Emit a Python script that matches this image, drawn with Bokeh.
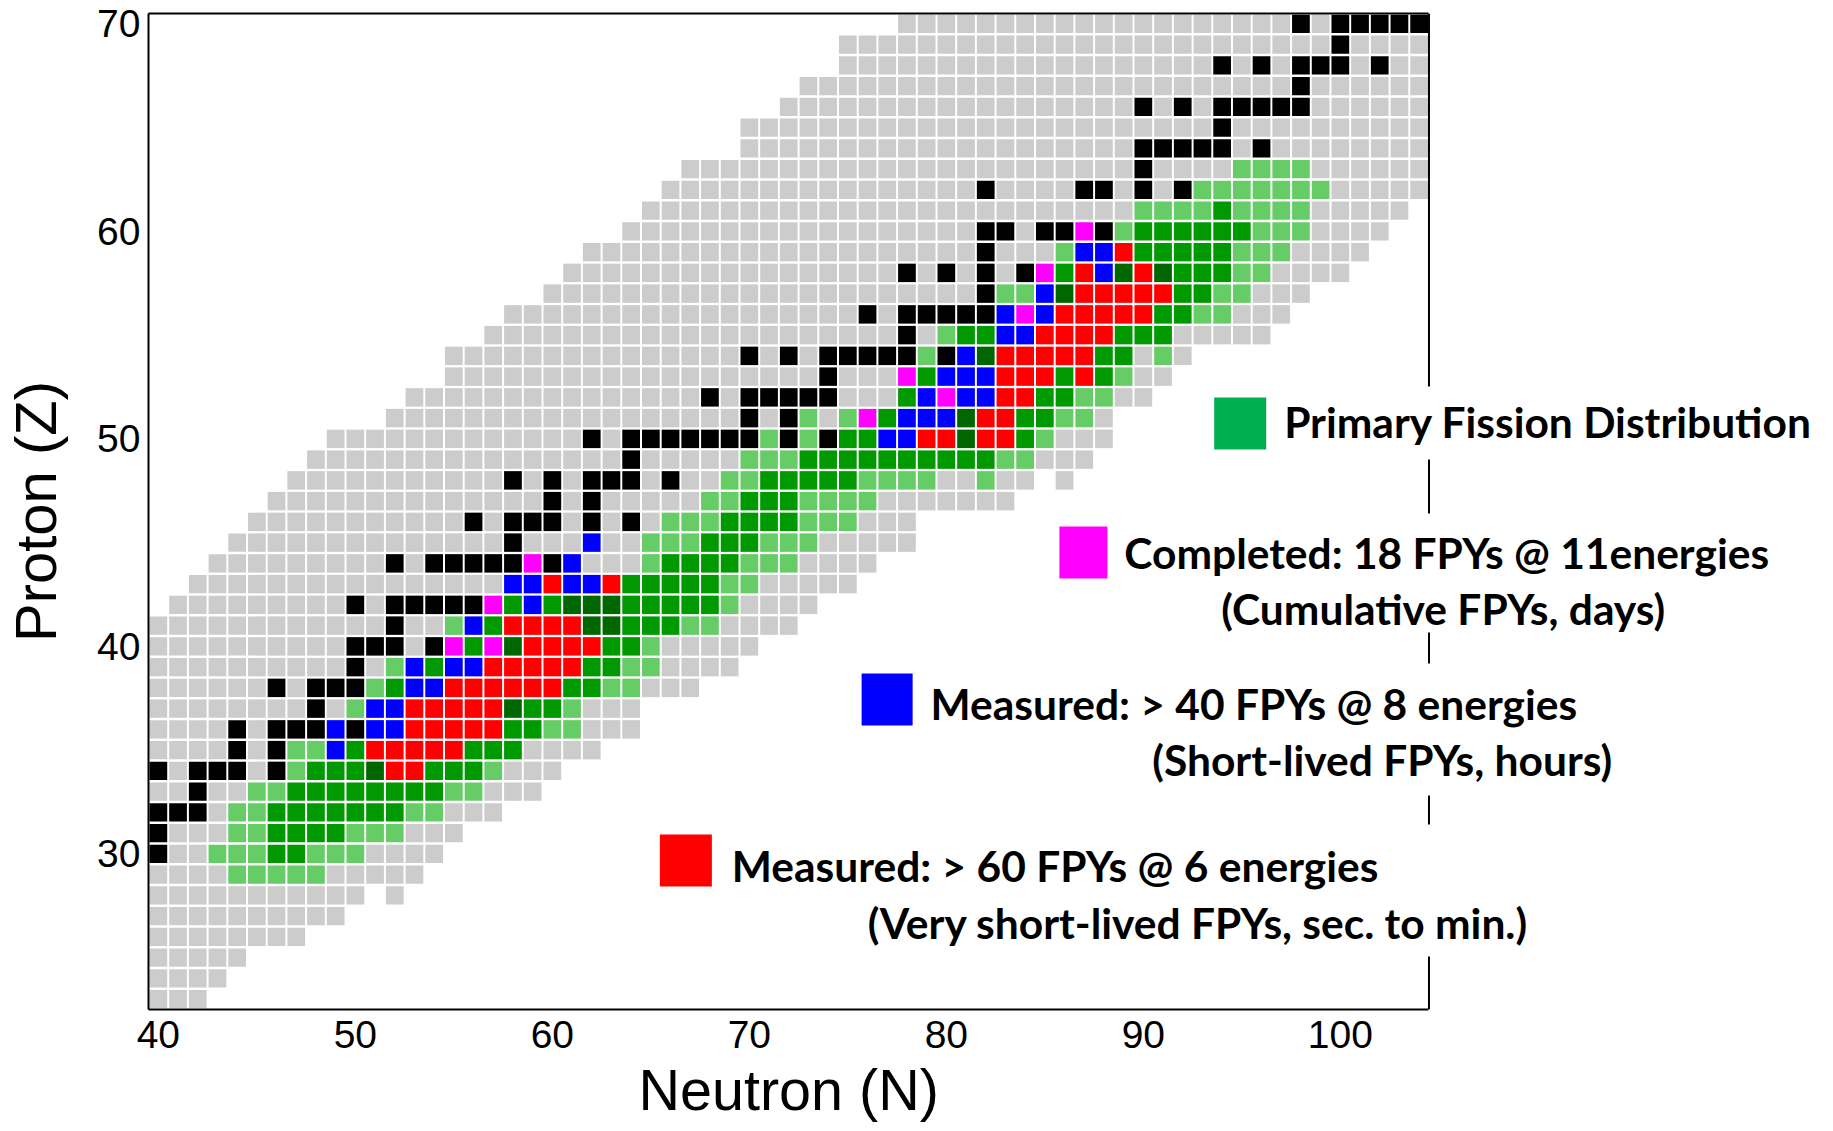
from bokeh.plotting import figure
from bokeh.models import Range1d, FixedTicker, LinearAxis, Label, ColumnDataSource, Title
from bokeh.embed import file_html
from bokeh.resources import INLINE

# ---------------- data ----------------
Z_ROWS = list(range(23, 71))
GRAY_FIRST_N = [40] * 19 + [41, 42, 43, 44, 45, 46, 47, 48, 49, 52, 53, 55, 55, 57,
                            58, 60, 61, 62, 64, 65, 66, 67, 70, 70, 72, 73, 75, 75, 78]
GRAY_LAST_N = [42, 43, 44, 47, 49, 52, 53, 54, 55, 57, 59, 60, 62, 64, 64, 67, 69, 70,
               72, 73, 75, 76, 78, 78, 83, 86, 87, 88, 88, 90, 91, 92, 96, 97, 98, 100,
               101, 102, 103, 104, 104, 104, 104, 104, 104, 104, 104, 104]
GRAY_HOLES = [(51, 28), (85, 48)]

STABLE = {70: [98, 100, 101, 102, 103, 104], 69: [100], 68: [94, 96, 98, 99, 100, 102],
          67: [98], 66: [90, 92, 94, 95, 96, 97, 98], 65: [94], 64: [90, 91, 92, 93, 94, 96],
          63: [90], 62: [82, 87, 88, 90, 92], 60: [82, 83, 85, 86, 88], 59: [82],
          58: [78, 80, 82, 84], 57: [82], 56: [76, 78, 79, 80, 81, 82], 55: [78],
          54: [70, 72, 74, 75, 76, 77, 78, 80], 53: [74], 52: [68, 70, 71, 72, 73, 74],
          51: [70, 72], 50: [62, 64, 65, 66, 67, 68, 69, 70, 72, 74], 49: [64],
          48: [58, 60, 62, 63, 64, 66], 47: [60, 62], 46: [56, 58, 59, 60, 62, 64], 45: [58],
          44: [52, 54, 55, 56, 57, 58, 60], 42: [50, 52, 53, 54, 55, 56], 41: [52],
          40: [50, 51, 52, 54], 39: [50], 38: [46, 48, 49, 50], 37: [48],
          36: [44, 46, 47, 48, 50], 35: [44, 46], 34: [40, 42, 43, 44, 46], 33: [42],
          32: [40, 41, 42], 31: [40], 30: [40]}

PRIMARY_LIGHT = {63: [95, 96, 97, 98], 62: [93, 94, 95, 96, 97, 98, 99],
                 61: [90, 91, 92, 93, 95, 96, 97, 98], 60: [89, 96, 97, 98], 59: [86, 95, 96, 97],
                 58: [95, 96], 57: [83, 84, 94, 95], 56: [93, 94], 55: [80], 54: [79, 91],
                 53: [89], 52: [87, 88], 51: [73, 75, 86, 87], 50: [71, 73, 85],
                 49: [70, 71, 72, 83, 84], 48: [69, 70, 76, 77, 78, 79, 82],
                 47: [68, 69, 73, 74, 75, 76], 46: [66, 67, 68, 73, 74, 75],
                 45: [65, 66, 67, 71, 72, 73], 44: [65, 70, 71, 72], 43: [69, 70], 42: [69],
                 41: [55, 67, 68], 40: [65], 39: [52, 64, 65], 38: [51, 63, 64], 37: [50, 61],
                 36: [60, 61], 35: [47, 48], 34: [47, 57], 33: [45, 46, 55, 56],
                 32: [44, 45, 53, 54], 31: [44, 45, 50, 51, 52], 30: [43, 44, 45, 48, 49, 50],
                 29: [44, 45, 46, 47, 48]}

PRIMARY = {61: [94], 60: [90, 91, 92, 93, 94, 95], 59: [90, 91, 92, 93, 94],
           58: [86, 92, 93, 94], 57: [92, 93], 56: [91, 92], 55: [81, 82, 89, 90, 91],
           54: [88, 89], 53: [79, 86, 88], 52: [78, 85, 86], 51: [77, 84, 85], 50: [75, 76, 84],
           49: [73, 74, 75, 76, 77, 78, 79, 80, 81, 82], 48: [71, 72, 73, 74, 75],
           47: [70, 71, 72], 46: [69, 70, 71, 72], 45: [68, 69, 70], 44: [66, 67, 68, 69],
           43: [64, 65, 66, 67, 68], 42: [58, 60, 64, 65, 66, 67, 68], 41: [57, 64, 65, 66],
           40: [56, 63, 64], 39: [54, 62, 63], 38: [52, 61, 62], 37: [59, 60], 36: [58, 59],
           35: [50, 56, 57, 58], 34: [48, 49, 50, 54, 55, 56],
           33: [47, 48, 49, 50, 51, 52, 53, 54], 32: [46, 47, 48, 49, 50, 51, 52],
           31: [46, 47, 48, 49], 30: [46, 47]}

PRIMARY_DARK = {58: [89, 91], 57: [86], 54: [82], 51: [81], 50: [81], 42: [61, 62, 63],
                41: [62, 63], 40: [58], 37: [58], 34: [51]}

MEASURED_60 = {59: [89], 58: [87, 90], 57: [87, 88, 89, 90, 91], 56: [86, 87, 88, 89, 90],
               55: [85, 86, 87, 88], 54: [83, 84, 85, 86, 87], 53: [83, 84, 85, 87],
               52: [83, 84], 51: [82, 83], 50: [79, 80, 82, 83], 43: [60, 63],
               41: [58, 59, 60, 61], 40: [59, 60, 61, 62], 39: [57, 58, 59, 60, 61],
               38: [55, 56, 57, 58, 59, 60], 37: [53, 54, 55, 56, 57],
               36: [53, 54, 55, 56, 57], 35: [51, 52, 53, 54, 55], 34: [52, 53]}

MEASURED_40 = {59: [87, 88], 58: [88], 57: [85], 56: [83, 85], 55: [83, 84], 54: [81],
               53: [80, 81, 82], 52: [79, 81, 82], 51: [78, 79, 80], 50: [77, 78], 45: [62],
               44: [61], 43: [58, 59, 61, 62], 42: [59], 41: [56], 39: [53, 55, 56],
               38: [53, 54], 37: [51, 52], 36: [49, 51, 52], 35: [49]}

COMPLETED_18 = {60: [87], 58: [85], 56: [84], 53: [78], 52: [80], 51: [76], 44: [59],
                42: [57], 40: [55, 57]}

X_TICKS = [40, 50, 60, 70, 80, 90, 100]
Y_TICKS = [30, 40, 50, 60, 70]

LEGEND_TEXTS = ["Primary Fission Distribution",
                "Completed: 18 FPYs @ 11energies", "(Cumulative FPYs, days)",
                "Measured: > 40 FPYs @ 8 energies", "(Short-lived FPYs, hours)",
                "Measured: > 60 FPYs @ 6 energies", "(Very short-lived FPYs, sec. to min.)"]

# ---------------- styles ----------------
GRAY = "#cccccc"
COLORS = [(STABLE, "#000000"), (PRIMARY_LIGHT, "#66cc66"), (PRIMARY, "#009900"),
          (PRIMARY_DARK, "#006600"), (MEASURED_60, "#ff0000"), (MEASURED_40, "#0000ff"),
          (COMPLETED_18, "#ff00ff")]

cells = {}
for z, n0, n1 in zip(Z_ROWS, GRAY_FIRST_N, GRAY_LAST_N):
    for n in range(n0, n1 + 1):
        if (n, z) not in GRAY_HOLES:
            cells[(n, z)] = GRAY
for table, col in COLORS:
    for z, ns in table.items():
        for n in ns:
            cells[(n, z)] = col

src = ColumnDataSource(dict(x=[k[0] for k in cells], y=[k[1] for k in cells],
                            c=list(cells.values())))

W, H = 1833, 1131
L, T, B = 146, 13, 122
X0, XB, Y0, Y1 = 39.5, 104.5, 22.5, 70.5
SX = 1282 / (XB - X0)          # px per neutron unit of the chart box
SY = (H - T - B) / (Y1 - Y0)    # px per proton unit
X1 = X0 + (W - L) / SX          # frame runs to the right edge so texts are not clipped


def dx(px):
    return X0 + (px - L) / SX


def dy(py):
    return Y1 - (py - T) / SY


p = figure(width=W, height=H, output_backend="svg", toolbar_location=None,
           x_range=Range1d(X0, X1), y_range=Range1d(Y0, Y1),
           min_border_left=L, min_border_right=0, min_border_top=T, min_border_bottom=B)
p.outline_line_color = None
p.grid.visible = False
p.background_fill_color = "white"
p.border_fill_color = "white"

p.rect(x="x", y="y", width=0.9, height=0.89, fill_color="c", line_color=None, source=src)

for ax, ticks in ((p.xaxis[0], X_TICKS), (p.yaxis[0], Y_TICKS)):
    ax.ticker = FixedTicker(ticks=ticks)
    ax.major_tick_line_color = None
    ax.minor_tick_line_color = None
    ax.axis_line_width = 2
    ax.axis_line_color = "black"
    ax.major_label_text_font = "Liberation Sans"
    ax.major_label_text_font_size = "39px"
    ax.major_label_text_color = "black"
    ax.axis_label_text_font = "Liberation Sans"
    ax.axis_label_text_font_size = "58px"
    ax.axis_label_text_font_style = "normal"
    ax.axis_label_text_color = "black"
p.xaxis.bounds = (X0, XB)
p.xaxis.major_label_standoff = 5
p.yaxis.axis_label = "Proton (Z)"
p.yaxis.major_label_standoff = 2
p.yaxis.axis_label_standoff = 26

# x axis title, centred under the chart box (not under the wider frame)
p.add_layout(Title(text="Neutron (N)", align="left", offset=490, vertical_align="top",
                   standoff=14, text_font="Liberation Sans", text_font_size="57.5px",
                   text_font_style="normal", text_color="black"), "below")

top = LinearAxis(ticker=FixedTicker(ticks=[]), axis_line_width=2, axis_line_color="black",
                 major_tick_line_color=None, minor_tick_line_color=None,
                 major_label_text_font_size="0px", bounds=(X0, XB))
p.add_layout(top, "above")

# right edge of the chart box, interrupted behind the legend text boxes
EDGE_PIECES = [(13, 386), (459, 513), (632, 663), (795, 824), (956, 1009)]
p.segment(x0=[XB] * len(EDGE_PIECES), x1=[XB] * len(EDGE_PIECES),
          y0=[dy(a) for a, b in EDGE_PIECES], y1=[dy(b) for a, b in EDGE_PIECES],
          line_width=2, line_color="black")

# legend keys
key_src = ColumnDataSource(dict(
    x=[dx(1239), dx(1082), dx(885.5), dx(684)],
    y=[dy(423), dy(552), dy(699), dy(860)],
    w=[52, 48, 51, 52], h=[52, 52, 52, 52],
    c=["#00b050", "#ff00ff", "#0000ff", "#ff0000"]))
p.rect(x="x", y="y", width="w", height="h", width_units="screen", height_units="screen",
       fill_color="c", line_color=None, source=key_src)

LEGEND_POS = [(1283, 421), (1123, 552), (1220, 608), (929, 703), (1151, 759),
              (730, 865), (866, 922)]
for txt, (px, py) in zip(LEGEND_TEXTS, LEGEND_POS):
    p.add_layout(Label(x=dx(px), y=dy(py), text=txt, text_font="Lato",
                       text_font_size="42.5px", text_font_style="bold", text_color="black",
                       text_align="left", text_baseline="alphabetic"))

open("out.html", "w").write(file_html(p, INLINE))
